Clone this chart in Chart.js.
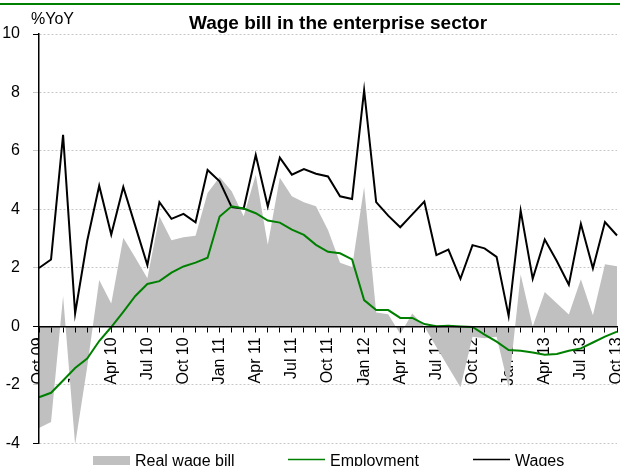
<!DOCTYPE html>
<html>
<head>
<meta charset="utf-8">
<title>Wage bill in the enterprise sector</title>
<script src="https://cdn.jsdelivr.net/npm/chart.js@4.4.0/dist/chart.umd.min.js"></script>
<style>
  body { margin: 0; background: #fff; }
  #wrap { position: relative; width: 620px; height: 466px; }
  #topline { position: absolute; left: 0; top: 3px; width: 620px; height: 2px; background: #008000; }
</style>
</head>
<body>
<div id="wrap">
  <canvas id="chart" width="620" height="466"></canvas>
  <div id="topline"></div>
</div>
<script>
// monthly data, Oct 09 - Oct 13, %YoY
var months = [
    'Oct 09', 'Nov 09', 'Dec 09',
    'Jan 10', 'Feb 10', 'Mar 10', 'Apr 10', 'May 10', 'Jun 10', 'Jul 10', 'Aug 10', 'Sep 10', 'Oct 10', 'Nov 10', 'Dec 10',
    'Jan 11', 'Feb 11', 'Mar 11', 'Apr 11', 'May 11', 'Jun 11', 'Jul 11', 'Aug 11', 'Sep 11', 'Oct 11', 'Nov 11', 'Dec 11',
    'Jan 12', 'Feb 12', 'Mar 12', 'Apr 12', 'May 12', 'Jun 12', 'Jul 12', 'Aug 12', 'Sep 12', 'Oct 12', 'Nov 12', 'Dec 12',
    'Jan 13', 'Feb 13', 'Mar 13', 'Apr 13', 'May 13', 'Jun 13', 'Jul 13', 'Aug 13', 'Sep 13', 'Oct 13'
];
var tickLabels = ['Oct 09', 'Jan 10', 'Apr 10', 'Jul 10', 'Oct 10', 'Jan 11', 'Apr 11', 'Jul 11', 'Oct 11',
    'Jan 12', 'Apr 12', 'Jul 12', 'Oct 12', 'Jan 13', 'Apr 13', 'Jul 13', 'Oct 13'];

var realWageBill = [
    -3.47, -3.27, 1.04, -4.04, -1.4, 1.59, 0.78, 3.03, 2.35, 1.65, 3.77, 2.95, 3.05,
    3.1, 4.56, 5.11, 4.62, 3.77, 5.19, 2.79, 5.08, 4.45, 4.25, 4.11, 3.3,
    2.18, 2.03, 4.77, 0.48, 0.42, -0.26, 0.44, 0.0, -0.7, -1.4, -2.08, -0.35,
    -0.4, -0.35, -2.08, 1.78, 0.0, 1.18, 0.79, 0.41, 1.61, 0.38, 2.13, 2.06
];
var employment = [
    -2.42, -2.27, -1.85, -1.42, -1.1, -0.5, -0.02, 0.5, 1.04, 1.45, 1.55, 1.84, 2.05,
    2.18, 2.35, 3.76, 4.11, 4.03, 3.87, 3.62, 3.55, 3.31, 3.13, 2.79, 2.55,
    2.5, 2.29, 0.9, 0.56, 0.56, 0.29, 0.29, 0.08, 0.01, 0.02, 0.0, -0.02,
    -0.28, -0.52, -0.81, -0.83, -0.89, -0.97, -0.94, -0.83, -0.75, -0.55, -0.35, -0.18
];
var wages = [
    2.0, 2.29, 6.55, 0.45, 2.92, 4.81, 3.14, 4.77, 3.43, 2.1, 4.25, 3.68, 3.85,
    3.56, 5.35, 4.96, 4.08, 4.03, 5.86, 4.1, 5.77, 5.19, 5.38, 5.22, 5.13,
    4.45, 4.36, 8.08, 4.25, 3.79, 3.39, 3.83, 4.27, 2.44, 2.63, 1.63, 2.78,
    2.67, 2.38, 0.36, 3.96, 1.63, 2.97, 2.24, 1.43, 3.51, 1.99, 3.57, 3.11
];

var FONT = '"Liberation Sans", Arial, sans-serif';
Chart.defaults.font.family = FONT;
Chart.defaults.font.size = 16;
Chart.defaults.color = '#000';

// title and unit label
var headerPlugin = {
    id: 'header',
    afterDraw: function (chart) {
        var ctx = chart.ctx;
        ctx.save();
        ctx.fillStyle = '#000';
        ctx.textBaseline = 'middle';
        ctx.textAlign = 'left';
        ctx.font = '16px ' + FONT;
        ctx.fillText('%YoY', 31, 20);
        ctx.textAlign = 'center';
        ctx.font = 'bold 19px ' + FONT;
        ctx.fillText('Wage bill in the enterprise sector', 338, 24);
        ctx.restore();
    }
};

// legend laid out like the original (fixed columns)
var legendPlugin = {
    id: 'bottomLegend',
    afterDraw: function (chart) {
        var ctx = chart.ctx;
        var xs = [93, 288, 473];
        ctx.save();
        ctx.font = '16px ' + FONT;
        ctx.textBaseline = 'alphabetic';
        chart.data.datasets.forEach(function (ds, i) {
            var x = xs[i];
            if (ds.fill) {
                ctx.fillStyle = ds.backgroundColor;
                ctx.fillRect(x, 456, 37, 9);
            } else {
                ctx.strokeStyle = ds.borderColor;
                ctx.lineWidth = 1.5;
                ctx.beginPath();
                ctx.moveTo(x, 459.5);
                ctx.lineTo(x + 37, 459.5);
                ctx.stroke();
            }
            ctx.fillStyle = '#000';
            ctx.fillText(ds.label, x + 42, 466);
        });
        ctx.restore();
    }
};

var ctx = document.getElementById('chart').getContext('2d');
new Chart(ctx, {
    type: 'line',
    data: {
        labels: months,
        datasets: [{
            label: 'Real wage bill',
            data: realWageBill,
            fill: 'origin',
            backgroundColor: '#c0c0c0',
            borderWidth: 0,
            pointRadius: 0
        }, {
            label: 'Employment',
            data: employment,
            fill: false,
            borderColor: '#008000',
            borderWidth: 2,
            pointRadius: 0
        }, {
            label: 'Wages',
            data: wages,
            fill: false,
            borderColor: '#000',
            borderWidth: 2,
            pointRadius: 0
        }]
    },
    options: {
        responsive: false,
        animation: false,
        devicePixelRatio: 1,
        layout: { padding: { top: 34, bottom: 21, left: 0, right: 3 } },
        elements: { line: { tension: 0 } },
        plugins: {
            legend: { display: false },
            tooltip: { enabled: false },
            filler: { drawTime: 'beforeDatasetsDraw' }
        },
        scales: {
            x: {
                position: { y: 0 },
                afterFit: function (scale) {
                    scale.height = 0;
                    scale.paddingLeft = 0;
                    scale.paddingRight = 0;
                },
                grid: { drawOnChartArea: false, color: '#000', tickLength: 5, z: 1 },
                border: { color: '#000', width: 1.5, z: 1 },
                ticks: {
                    autoSkip: false,
                    minRotation: 90,
                    maxRotation: 90,
                    padding: 6,
                    callback: function (val, i) {
                        return tickLabels.indexOf(months[i]) >= 0 ? months[i] : '';
                    }
                }
            },
            y: {
                min: -4,
                max: 10,
                afterFit: function (scale) { scale.width = 39; },
                grid: {
                    color: '#c8c8c8',
                    tickLength: 6,
                    tickColor: function (c) {
                        return c.tick && [-4, 0, 10].indexOf(c.tick.value) >= 0 ? '#000' : '#c8c8c8';
                    }
                },
                border: { color: '#000', width: 1.5, dash: [2, 2], z: 1 },
                ticks: { stepSize: 2, padding: 13 }
            }
        }
    },
    plugins: [headerPlugin, legendPlugin]
});
</script>
</body>
</html>
